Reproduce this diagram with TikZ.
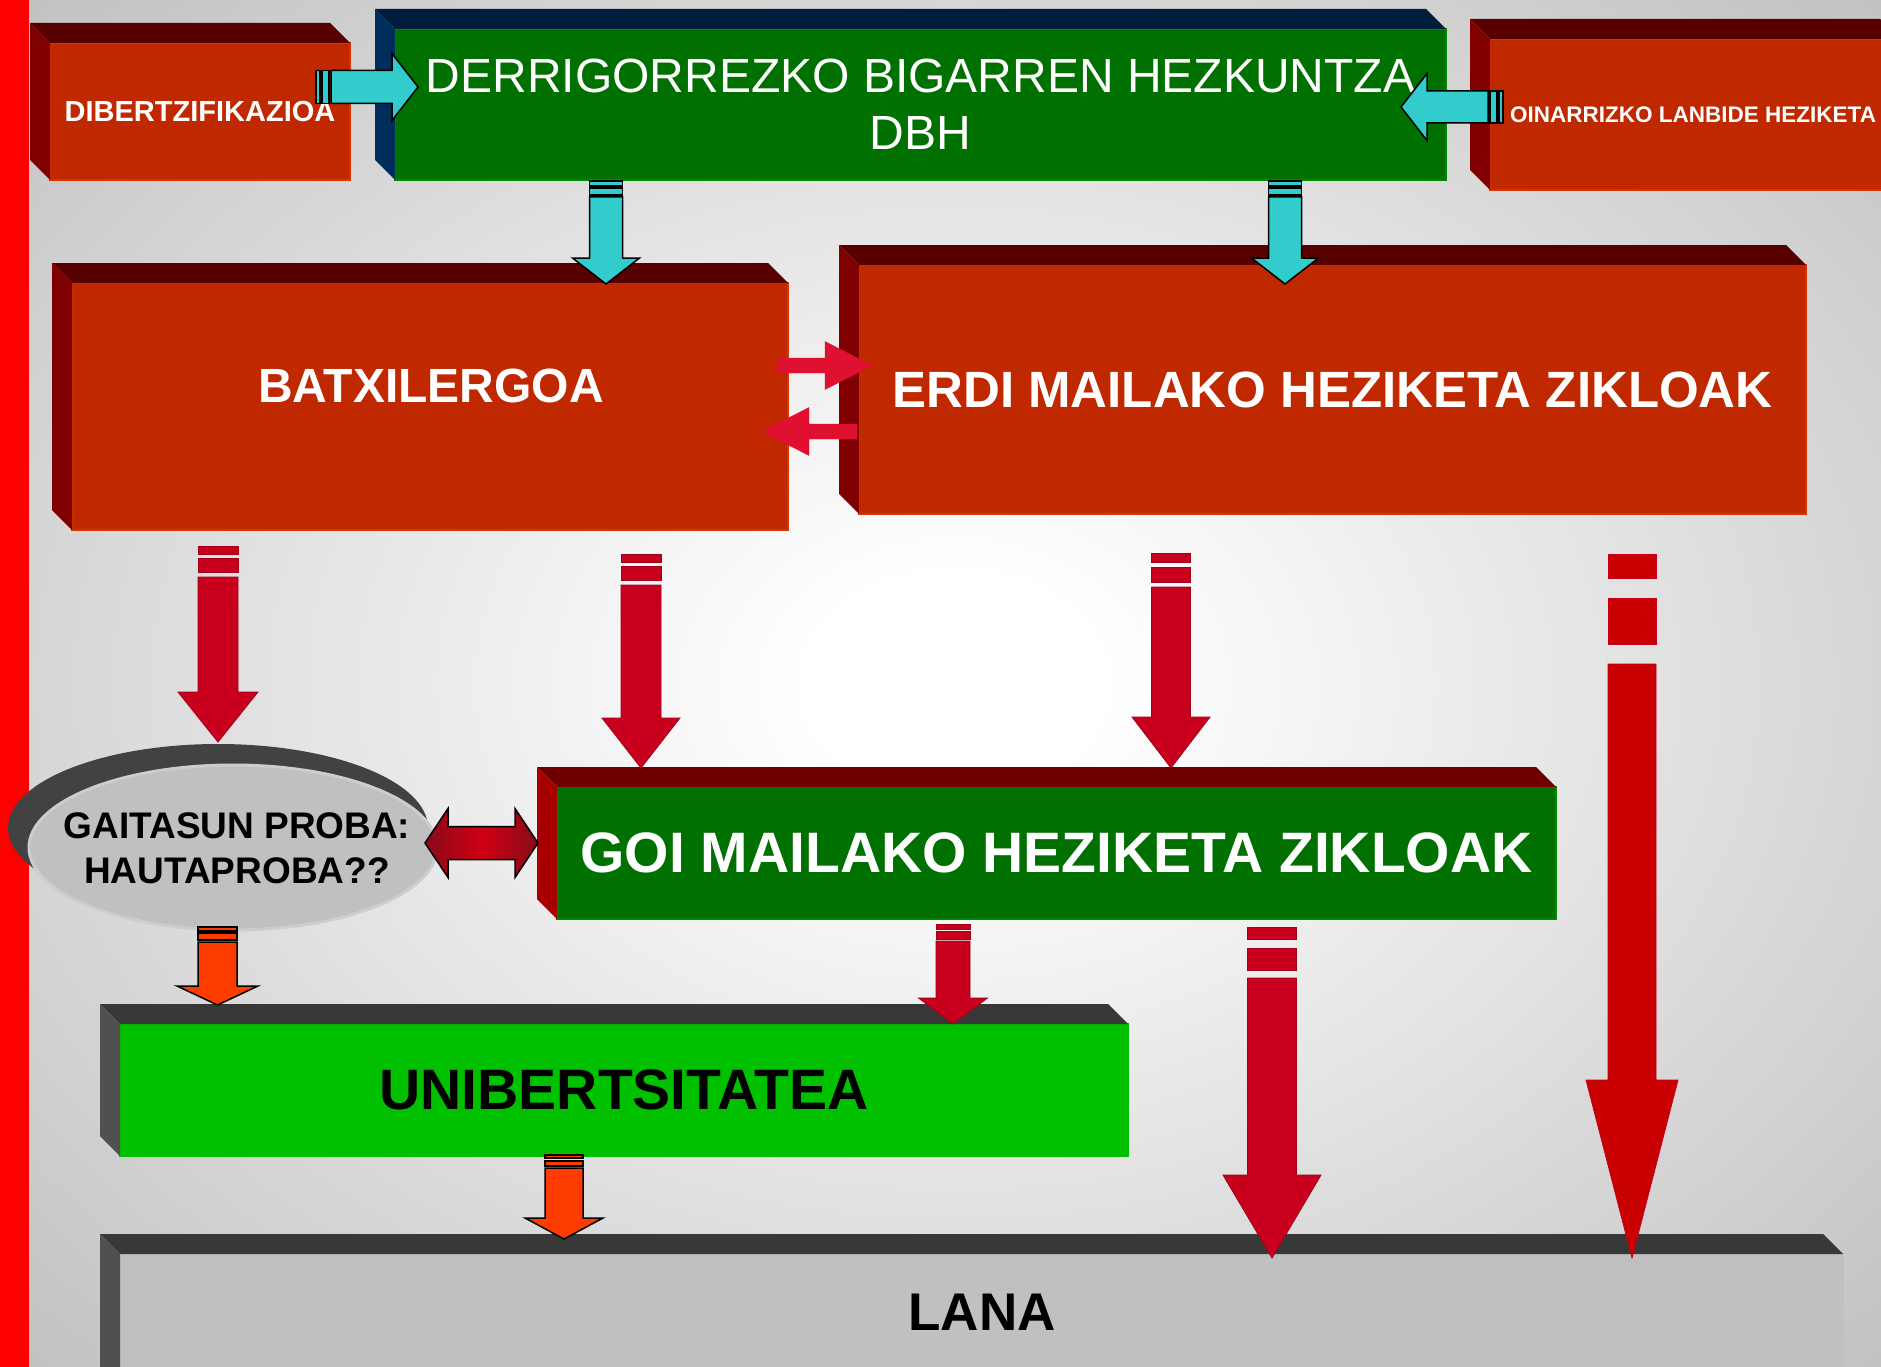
\documentclass[tikz,border=0pt]{standalone}
\usepackage{fontspec}
\setmainfont{Liberation Sans}
\usetikzlibrary{shapes.geometric,calc}

\definecolor{brick}{HTML}{C02800}
\definecolor{brickedge}{HTML}{D83400}
\definecolor{bricktop}{HTML}{580000}
\definecolor{brickside}{HTML}{800000}
\definecolor{dbhgreen}{HTML}{007000}
\definecolor{greenedge}{HTML}{008800}
\definecolor{navytop}{HTML}{001E3C}
\definecolor{navyside}{HTML}{002D5A}
\definecolor{goitop}{HTML}{700000}
\definecolor{goiside}{HTML}{A80000}
\definecolor{unigreen}{HTML}{00C000}
\definecolor{slabtop}{HTML}{383838}
\definecolor{slabside}{HTML}{505050}
\definecolor{lanagray}{HTML}{C0C0C0}
\definecolor{crimson}{HTML}{C8001E}
\definecolor{crimsonedge}{HTML}{A00018}
\definecolor{pillarred}{HTML}{C80000}
\definecolor{brightred}{HTML}{E01030}
\definecolor{turq}{HTML}{33CCCC}
\definecolor{flame}{HTML}{FF3C00}
\definecolor{dblred}{HTML}{D00014}
\definecolor{dbldark}{HTML}{860A18}
\definecolor{bggray}{HTML}{ADADAD}
\definecolor{bgdark}{HTML}{939393}

\pgfdeclareradialshading{bgshade}{\pgfpoint{0bp}{0bp}}{color(0bp)=(white); color(4bp)=(white); color(46bp)=(bggray); color(71bp)=(bgdark)}

% top and left faces of a box node
\newcommand\slab[3]{%
  \fill[#2] (#1.north west) -- ++(-20,-20) -- ($(#1.north east)+(-20,-20)$) -- (#1.north east) -- cycle;
  \fill[#3] (#1.north west) -- ++(-20,-20) -- ($(#1.south west)+(-20,-20)$) -- (#1.south west) -- cycle;
}

% striped block arrow pointing down
% style, x, top, tip, half body, half head, head length, stripes, body start
\newcommand\dnarrow[9]{%
  \foreach \sa/\sb in {#8} \filldraw[#1] ({#2-#5},{#3+\sa}) rectangle ({#2+#5},{#3+\sb});
  \filldraw[#1] ({#2-#5},{#3+#9}) -- ({#2-#5},{#4-#7}) -- ({#2-#6},{#4-#7}) -- (#2,#4)
    -- ({#2+#6},{#4-#7}) -- ({#2+#5},{#4-#7}) -- ({#2+#5},{#3+#9}) -- cycle;
}

% block arrow left or right
% style, y, tail, tip, half body, half head, head length, stripes, body start
\newcommand\hzarrow[9]{%
  \pgfmathsetmacro\dd{(#4>#3)*2-1}%
  \def\stripelist{#8}%
  \ifx\stripelist\empty\else
    \foreach \sa/\sb in {#8} \filldraw[#1] ({#3+(\dd)*\sa},{#2-#5}) rectangle ({#3+(\dd)*\sb},{#2+#5});
  \fi
  \filldraw[#1] ({#3+(\dd)*#9},{#2-#5}) -- ({#4-(\dd)*#7},{#2-#5}) -- ({#4-(\dd)*#7},{#2-#6}) -- (#4,#2)
    -- ({#4-(\dd)*#7},{#2+#6}) -- ({#4-(\dd)*#7},{#2+#5}) -- ({#3+(\dd)*#9},{#2+#5}) -- cycle;
}

\begin{document}
\begin{tikzpicture}[x=1pt, y=-1pt,
        box/.style = {anchor=north west, inner sep=0pt, outer sep=0pt,
            text=white, line width=1.5pt},
        redbox/.style = {box, fill=brick, draw=brickedge},
        redarr/.style = {fill=crimson, draw=crimsonedge, line width=0.8pt},
        pillar/.style = {fill=pillarred, draw=crimson, line width=0.8pt},
        smallred/.style = {fill=brightred, draw=brightred},
        cyanarr/.style = {fill=turq, draw=black, line width=1.5pt},
        orangearr/.style = {fill=flame, draw=black, line width=1.5pt},
        big/.style = {font=\bfseries\fontsize{#1}{#1}\selectfont}
    ]
    \useasboundingbox (0,0) rectangle (1881,1367);
    \clip (0,0) rectangle (1881,1367);

    % background
    \shade[shading=bgshade] (29,0) rectangle (1881,1367);

    % Left bar
    \fill[red] (0,0) rectangle (29,1367);

    % Top row
    \node [redbox, minimum width=300pt, minimum height=137pt,
        big=29] (dib) at (50,43) {DIBERTZIFIKAZIOA};
    \slab{dib}{bricktop}{brickside}

    \node [box, fill=dbhgreen, draw=greenedge, minimum width=1051pt,
        minimum height=151pt, align=center,
        font=\fontsize{48}{57}\selectfont] (dbh) at (395,29)
        {DERRIGORREZKO BIGARREN HEZKUNTZA\\DBH};
    \slab{dbh}{navytop}{navyside}

    \node [redbox, minimum width=410pt, minimum height=151pt] (oin) at (1490,39) {};
    \slab{oin}{bricktop}{brickside}
    \node [anchor=west, inner sep=0pt, text=white, big=22.5] (oinlbl) at (1510,115)
        {OINARRIZKO LANBIDE HEZIKETA};

    % Second row
    \node [redbox, minimum width=716pt, minimum height=247pt] (bat) at (72,283) {};
    \slab{bat}{bricktop}{brickside}
    \node [text=white, big=48] (batlbl) at (431,386) {BATXILERGOA};

    \node [redbox, minimum width=947pt, minimum height=249pt,
        big=51] (erdi) at (859,265) {ERDI MAILAKO HEZIKETA ZIKLOAK};
    \slab{erdi}{bricktop}{brickside}

    % Gaitasun proba
    \node [ellipse, fill=slabtop!95!white, inner sep=0pt, minimum width=420pt,
        minimum height=168pt] (gpshadow) at (218,828) {};
    \node [ellipse, fill=lanagray, draw=lanagray!80!white, line width=3pt,
        inner sep=0pt, minimum width=408pt, minimum height=165pt] (gp) at (233,847.5) {};
    \node [align=center, font=\bfseries\fontsize{37}{45}\selectfont]
        (gplbl) at (237,848) {GAITASUN PROBA:\\HAUTAPROBA??};

    \node [box, fill=dbhgreen, draw=greenedge, minimum width=999pt,
        minimum height=132pt, big=57] (goi) at (557,787)
        {GOI MAILAKO HEZIKETA ZIKLOAK};
    \slab{goi}{goitop}{goiside}

    % Bottom rows
    \node [box, fill=unigreen, draw=unigreen, text=black, minimum width=1008pt,
        minimum height=132pt, big=57] (uni) at (120,1024) {UNIBERTSITATEA};
    \slab{uni}{slabtop}{slabside}

    \node [box, fill=lanagray, draw=lanagray, minimum width=1723pt,
        minimum height=150pt] (lana) at (120,1254) {};
    \slab{lana}{slabtop}{slabside}
    \node [text=black, big=53] (lanalbl) at (982,1312) {LANA};

    % Arrows into DBH
    \hzarrow{cyanarr}{87}{316}{418}{16.5}{33.5}{26}{0/4,6/13}{15}
    \hzarrow{cyanarr}{107}{1503}{1401}{16}{33.5}{26}{0/4,6/13}{15}

    % Arrows out of DBH
    \dnarrow{cyanarr}{606}{181}{284}{16.5}{33.5}{26}{0/5,7/14}{16}
    \dnarrow{cyanarr}{1285}{181}{284}{16.5}{33.5}{26}{0/5,7/14}{16}

    % Batxilergoa <-> Erdi mailako
    \hzarrow{smallred}{365.5}{777}{872}{7.5}{24}{47}{}{0}
    \hzarrow{smallred}{431.5}{857}{762}{7.5}{24}{47}{}{0}

    % Second row down
    \dnarrow{redarr}{218}{546}{742}{20}{40}{50}{0/8,12/26}{31}
    \dnarrow{redarr}{641}{554}{768}{20}{39}{50}{0/8,12/26}{31}
    \dnarrow{redarr}{1171}{553}{768}{19.5}{39}{51}{0/9,14/29}{34}
    \dnarrow{pillar}{1632}{554}{1258}{24}{46}{178}{0/24,44/90}{110}

    % Gaitasun proba <-> Goi mailako
    \filldraw [left color=dbldark, right color=dbldark, middle color=dblred,
        draw=black, line width=1.5pt]
        (425,843) -- (448,808.5) -- (448,826.5) -- (515,826.5) -- (515,808.5)
        -- (538,843) -- (515,877.5) -- (515,859.5) -- (448,859.5) -- (448,877.5) -- cycle;

    % Third row down
    \dnarrow{orangearr}{217.5}{927}{1005}{19.5}{40.5}{19}{0/4,6/13}{15}
    \dnarrow{redarr}{953}{924}{1024}{17}{34.5}{26}{0/5,7/15}{17}
    \dnarrow{redarr}{1272}{927}{1258}{24.5}{49}{83}{0/12,21/43}{51}
    \dnarrow{orangearr}{564}{1155}{1239}{19}{39}{21}{0/3,6/11}{13}

\end{tikzpicture}
\end{document}
